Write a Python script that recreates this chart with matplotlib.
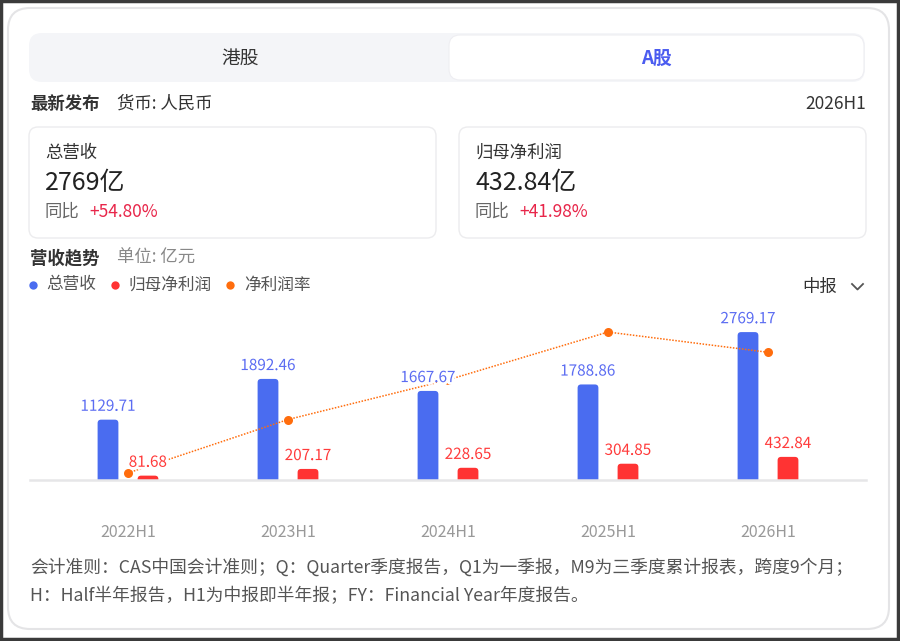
import matplotlib
matplotlib.use('Agg')
import matplotlib.pyplot as plt
import matplotlib.patheffects as pe
from matplotlib.patches import FancyBboxPatch, Rectangle
import numpy as np

plt.rcParams['font.family'] = ['Noto Sans CJK SC', 'DejaVu Sans']

# data
periods = ['2022H1', '2023H1', '2024H1', '2025H1', '2026H1']
revenue = [1129.71, 1892.46, 1667.67, 1788.86, 2769.17]
net_profit = [81.68, 207.17, 228.65, 304.85, 432.84]
net_margin = [7.23, 10.95, 13.71, 17.04, 15.63]   # %, only the line is shown

legend_names = ['总营收', '归母净利润', '净利润率']
tab_names = ['港股', 'A股']
card_titles = ['总营收', '归母净利润']
card_values = ['2769亿', '432.84亿']
card_yoy = ['+54.80%', '+41.98%']

blue = '#4a6cf0'
blue_txt = '#5b6cf2'
red = '#ff3333'
red_txt = '#ff3b3b'
orange = '#ff6d0d'

W, H = 900, 641
fig = plt.figure(figsize=(W / 100, H / 100), dpi=100)
fig.patch.set_facecolor('white')

# background layer in pixel coords
bg = fig.add_axes([0, 0, 1, 1])
bg.set_xlim(0, W)
bg.set_ylim(H, 0)
bg.axis('off')
bg.set_zorder(0)


def rbox(x0, y0, x1, y1, r, fc, ec, lw=1.0):
    bg.add_patch(FancyBboxPatch((x0, y0), x1 - x0, y1 - y0,
                                boxstyle=f'round,pad=0,rounding_size={r}',
                                fc=fc, ec=ec, lw=lw))


# outer frame + card
bg.add_patch(Rectangle((1, 1), W - 3, H - 3, fc='white', ec='#3a3a3a', lw=2.5))
rbox(8, 8, 889, 629, 22, 'white', '#e4e4e6', 1.5)

# tabs
rbox(29, 33, 865, 82, 13, '#f4f5f8', 'none')
rbox(449, 35, 864, 80, 11, 'white', '#eeeef2', 0.8)
bg.text(240, 58, tab_names[0], ha='center', va='center', fontsize=13.5, color='#333333',
        fontweight='medium')
bg.text(656, 58, tab_names[1], ha='center', va='center', fontsize=13.5, color='#4b5cf0',
        fontweight='bold')

bg.text(30, 104, '最新发布', ha='left', va='center', fontsize=12.5, color='#333333',
        fontweight='bold')
bg.text(117, 104, '货币: 人民币', ha='left', va='center', fontsize=12.5, color='#333333')
bg.text(866, 104, '2026H1', ha='right', va='center', fontsize=12.5, color='#333333')

# summary cards
for i, x0 in enumerate([29, 459]):
    rbox(x0, 127, x0 + 407, 238, 9, 'white', '#ececee', 1.0)
    tx = x0 + 16
    bg.text(tx, 153, card_titles[i], ha='left', va='center', fontsize=12.5, color='#333333')
    bg.text(tx, 183, card_values[i], ha='left', va='center', fontsize=18, color='#222222')
    bg.text(tx, 212, '同比', ha='left', va='center', fontsize=12.5, color='#666666')
    bg.text(tx + 44, 212, card_yoy[i], ha='left', va='center', fontsize=12.5, color='#e8264a')

bg.text(30, 258, '营收趋势', ha='left', va='center', fontsize=12.5, color='#333333',
        fontweight='bold')
bg.text(117, 258, '单位: 亿元', ha='left', va='center', fontsize=12.5, color='#888888')

# legend
for name, c, dx, tx in zip(legend_names, [blue, red, orange], [33, 115, 230], [46, 128, 244]):
    bg.plot(dx, 285, 'o', ms=6, color=c, mec='none')
    bg.text(tx, 285, name, ha='left', va='center', fontsize=12, color='#555555')

bg.text(802, 287, '中报', ha='left', va='center', fontsize=12.5, color='#333333')
bg.plot([852, 857.5, 863], [284, 289.5, 284], color='#555555', lw=1.3)

# footer
bg.text(30, 567, '会计准则：CAS中国会计准则；Q：Quarter季度报告，Q1为一季报，M9为三季度累计报表，跨度9个月；',
        ha='left', va='center', fontsize=12.75, color='#555555')
bg.text(30, 596, 'H：Half半年报告，H1为中报即半年报；FY：Financial Year年度报告。',
        ha='left', va='center', fontsize=12.75, color='#555555')


# chart area
def px(x0, y0, x1, y1):
    return [x0 / W, 1 - y1 / H, (x1 - x0) / W, (y1 - y0) / H]


ax = fig.add_axes(px(30, 300, 866, 480))
ax.set_zorder(1)
ax.patch.set_visible(False)
x = np.arange(len(periods))
ax.set_xlim(-0.6125, 4.6125)
ax.set_ylim(0, 3370)
bw = 0.13
bars_rev = ax.bar(x - 0.125, revenue, width=bw, color=blue)
bars_np = ax.bar(x + 0.125, net_profit, width=bw, color=red)

# rounded tops
x_per_px = 5.225 / 836
y_per_px = 3370 / 180
r = 3.5
for b in list(bars_rev) + list(bars_np):
    ry = r * y_per_px
    ax.add_patch(FancyBboxPatch((b.get_x(), -ry), b.get_width(), b.get_height() + ry,
                                boxstyle=f'round,pad=0,rounding_size={r * x_per_px}',
                                mutation_aspect=y_per_px / x_per_px,
                                fc=b.get_facecolor(), ec='none'))
    b.set_visible(False)

for s in ['top', 'left', 'right']:
    ax.spines[s].set_visible(False)
ax.spines['bottom'].set_color('#e6e6e8')
ax.spines['bottom'].set_linewidth(1.8)
ax.set_yticks([])
ax.set_xticks(x, periods)
ax.tick_params(axis='x', length=0, pad=32, labelsize=11.5, labelcolor='#999999')

# net margin line on a second scale
ax2 = ax.twinx()
ax2.set_zorder(2)
ax2.patch.set_visible(False)
ax2.set_ylim(6.74, 19.27)
ax2.axis('off')
ax2.plot(x, net_margin, ls=(0, (1, 1)), lw=1.1, color=orange, marker='o', ms=6.5,
         mec='none', mfc=orange)

halo = [pe.withStroke(linewidth=4, foreground='white')]
for xi, v in zip(x, revenue):
    ax2.annotate(f'{v:.2f}', xy=(xi - 0.125, v), xycoords=ax.transData, xytext=(0, 3.5),
                 textcoords='offset points', ha='center', va='bottom', fontsize=11,
                 color=blue_txt, path_effects=halo)
for xi, v in zip(x, net_profit):
    ax2.annotate(f'{v:.2f}', xy=(xi + 0.125, v), xycoords=ax.transData, xytext=(0, 3.5),
                 textcoords='offset points', ha='center', va='bottom', fontsize=11,
                 color=red_txt, path_effects=halo)

fig.savefig('out.png', dpi=100)
